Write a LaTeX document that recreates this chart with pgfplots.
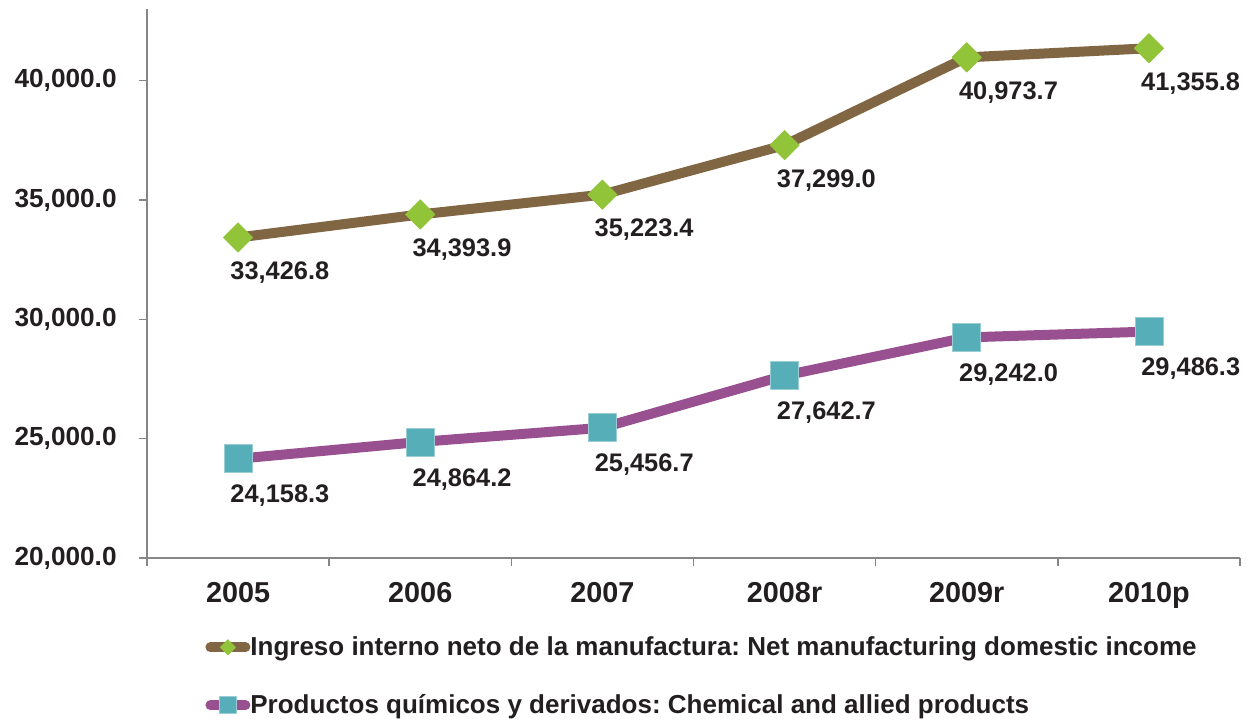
\documentclass[border=0pt]{standalone}
\usepackage{pgfplots}
\pgfplotsset{compat=1.18}
\usepackage{fontspec}
\setmainfont{Liberation Sans}
\frenchspacing

\definecolor{brownline}{RGB}{128,102,66}
\definecolor{greenmark}{RGB}{146,196,58}
\definecolor{purpleline}{RGB}{152,80,144}
\definecolor{tealmark}{RGB}{86,174,184}
\definecolor{axisgray}{RGB}{134,134,134}
\definecolor{textdark}{RGB}{35,31,32}

\pgfplotstableread{
x y lab
0 33426.8 33,426.8
1 34393.9 34,393.9
2 35223.4 35,223.4
3 37299.0 37,299.0
4 40973.7 40,973.7
5 41355.8 41,355.8
}\manufactura

\pgfplotstableread{
x y lab
0 24158.3 24,158.3
1 24864.2 24,864.2
2 25456.7 25,456.7
3 27642.7 27,642.7
4 29242.0 29,242.0
5 29486.3 29,486.3
}\quimicos

\begin{document}
\begin{tikzpicture}
\begin{axis}[
scale only axis,
width=546.5pt, height=274.5pt,
xmin=-0.5, xmax=5.5,
ymin=20000, ymax=43000,
clip=false,
axis x line*=bottom,
axis y line*=left,
axis line style={draw=axisgray, line width=0.8pt},
tick align=outside,
xtick={0,1,2,3,4,5},
xticklabels={2005,2006,2007,2008r,2009r,2010p},
minor xtick={-0.5,0.5,1.5,2.5,3.5,4.5,5.5},
major x tick style={draw=none},
minor x tick style={draw=axisgray, line width=0.8pt},
minor tick length=4pt,
major tick length=4pt,
ytick={20000,25000,30000,35000,40000},
scaled y ticks=false,
y tick style={draw=axisgray, line width=0.8pt},
/pgf/number format/.cd, fixed, fixed zerofill, precision=1, 1000 sep={,}, assume math mode=true,
/pgfplots/.cd,
ticklabel style={text=textdark, inner sep=0pt},
yticklabel style={font=\fontsize{13.1}{15}\selectfont\bfseries, anchor=east, xshift=-11pt},
xticklabel style={font=\fontsize{14.4}{17}\selectfont\bfseries, anchor=north, yshift=-8pt},
nodes near coords={\pgfplotspointmeta},
point meta=explicit symbolic,
every node near coord/.append style={font=\fontsize{12.7}{15}\selectfont\bfseries, text=textdark, inner sep=0pt, anchor=north west},
legend image code/.code={\draw[#1, mark repeat=2, mark phase=2] plot coordinates {(0pt,0pt) (8.75pt,0pt) (17.5pt,0pt)};},
legend cell align=left,
legend style={at={(axis description cs:0,0)}, anchor=north west, xshift=29pt, yshift=-39pt, draw=none, fill=none, inner sep=0pt, row sep=18pt,
  font=\fontsize{13}{15}\selectfont\bfseries, text=textdark,
  nodes={inner sep=0pt},
  /tikz/every even column/.style={column sep=3pt}},
]
\addplot[brownline, line width=5pt, line cap=round, line join=round,
  mark=square*, mark size=5.2pt, mark options={rotate=45, fill=greenmark, draw=greenmark, line width=0.3pt},
  every node near coord/.append style={xshift=-4pt, yshift=-12pt},
  legend image post style={mark size=2.7pt}]
table[x=x, y=y, meta=lab] {\manufactura};
\addlegendentry{Ingreso interno neto de la manufactura: Net manufacturing domestic income}
\addplot[purpleline, line width=5pt, line cap=round, line join=round,
  mark=square*, mark size=7pt, mark options={fill=tealmark, draw=tealmark!60!white, line width=0.4pt},
  every node near coord/.append style={xshift=-4pt, yshift=-13pt},
  legend image post style={mark size=4.2pt}]
table[x=x, y=y, meta=lab] {\quimicos};
\addlegendentry{Productos químicos y derivados: Chemical and allied products}
\end{axis}
\pgfresetboundingbox
\path[use as bounding box] (-73.5pt,-81pt) rectangle (550pt,279pt);
\end{tikzpicture}
\end{document}
